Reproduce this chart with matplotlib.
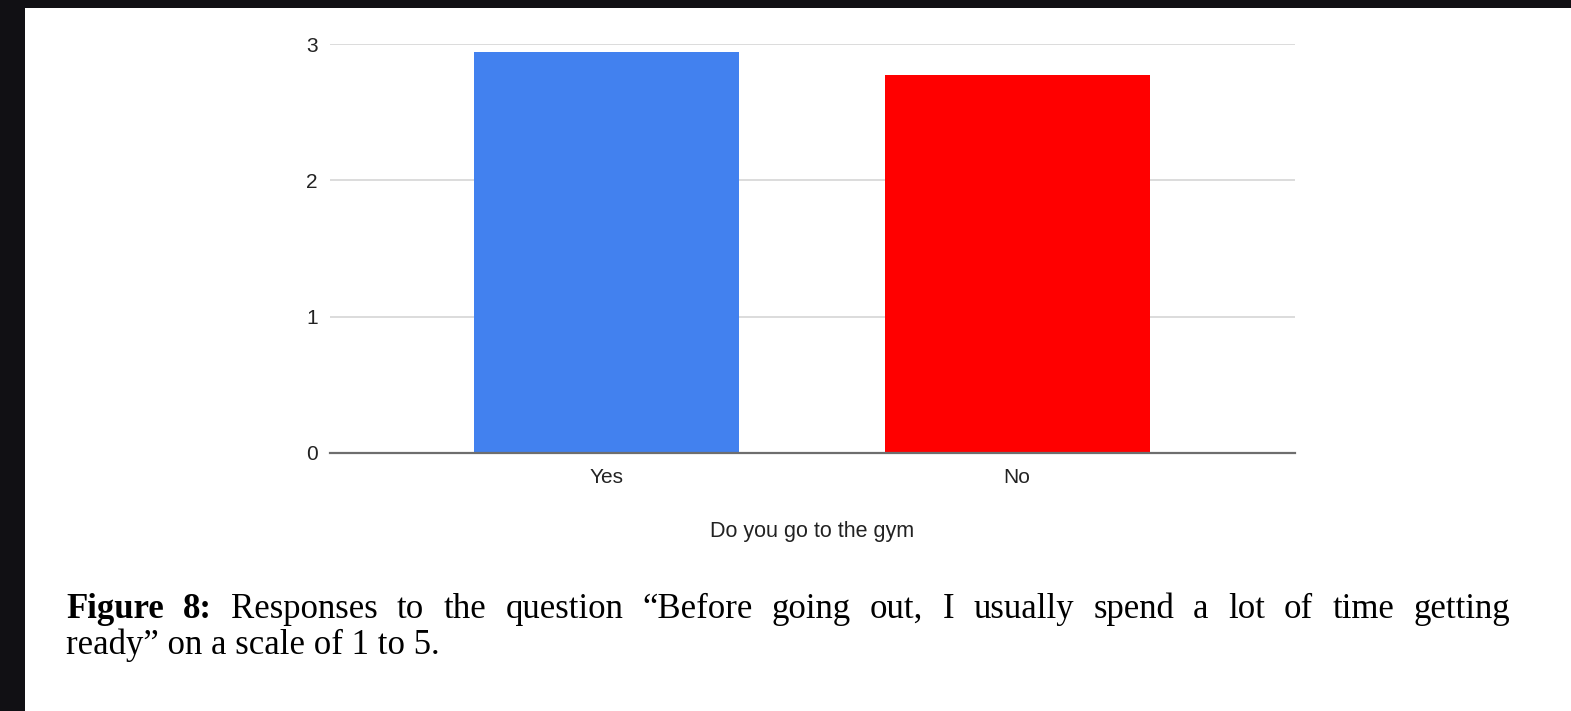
import matplotlib
matplotlib.use("Agg")
import matplotlib.pyplot as plt
from matplotlib.patches import Rectangle

# average response (scale 1 to 5) split by gym attendance
categories = ["Yes", "No"]
averages = [2.94, 2.77]
bar_colors = ["#4281ef", "#ff0000"]
y_ticks = [0, 1, 2, 3]
x_title = "Do you go to the gym"

caption_line1 = [("Figure", "bold"), ("8:", "bold"), ("Responses", "normal"),
                 ("to", "normal"), ("the", "normal"), ("question", "normal"),
                 ("\u201cBefore", "normal"), ("going", "normal"), ("out,", "normal"),
                 ("I", "normal"), ("usually", "normal"), ("spend", "normal"),
                 ("a", "normal"), ("lot", "normal"), ("of", "normal"),
                 ("time", "normal"), ("getting", "normal")]
caption_line2 = "ready\u201d on a scale of 1 to 5."

W, H = 1571, 711
fig = plt.figure(figsize=(W / 100, H / 100), dpi=100, facecolor="white")

ax = fig.add_axes([330 / W, 1 - 453 / H, (1295 - 330) / W, (453 - 44) / H])
x = range(len(categories))
ax.bar(x, averages, width=0.645, color=bar_colors, zorder=3)

ax.set_xlim(-0.672, 1.676)
ax.set_ylim(0, 3)
ax.set_yticks(y_ticks)
ax.set_xticks(list(x))
ax.set_xticklabels(categories)
ax.grid(axis="y", color="#d6d6d6", linewidth=1.2, zorder=0)
ax.axhline(0, color="#6e6e6e", linewidth=1.6, zorder=4, clip_on=False)
for side in ["top", "right", "left", "bottom"]:
    ax.spines[side].set_visible(False)
ax.tick_params(axis="both", length=0, labelsize=15, labelcolor="#222222",
               labelfontfamily="Liberation Sans")
ax.tick_params(axis="y", pad=9)
ax.tick_params(axis="x", pad=10.5)
ax.set_xlabel(x_title, fontsize=15.5, family="Liberation Sans", color="#222222",
              labelpad=24.5)

# caption under the chart, first line justified
cap_size = 25
left_px, right_px = 66, 1510
words = [fig.text(0, 1 - 618 / H, w, fontsize=cap_size, weight=wt,
                  family="Liberation Serif", color="black", va="baseline")
         for w, wt in caption_line1]
fig.canvas.draw()
renderer = fig.canvas.get_renderer()
widths = [t.get_window_extent(renderer).width for t in words]
gap = (right_px - left_px - sum(widths)) / (len(words) - 1)
pos = left_px
for t, w in zip(words, widths):
    t.set_x(pos / W)
    pos += w + gap
fig.text(left_px / W, 1 - 654 / H, caption_line2, fontsize=cap_size,
         family="Liberation Serif", color="black", va="baseline")

# dark page border along the left and top edges
fig.patches.append(Rectangle((0, 0), 25 / W, 1, transform=fig.transFigure,
                             facecolor="#111014", edgecolor="none", zorder=10))
fig.patches.append(Rectangle((0, 1 - 8 / H), 1, 8 / H, transform=fig.transFigure,
                             facecolor="#111014", edgecolor="none", zorder=10))

fig.savefig("out.png", dpi=100, facecolor="white")
